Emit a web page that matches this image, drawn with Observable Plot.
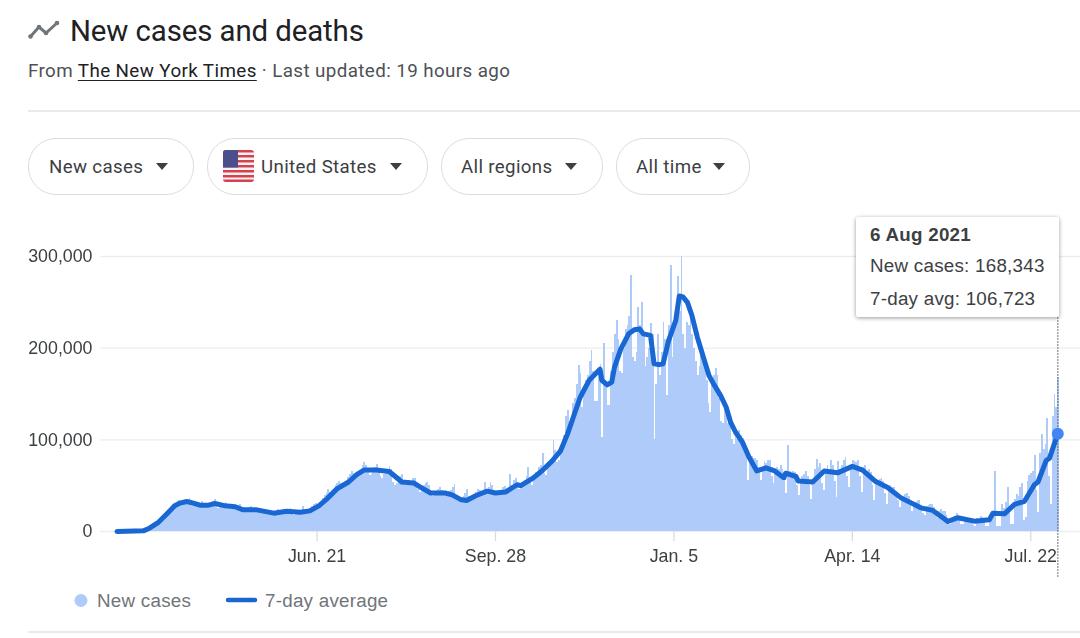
<!DOCTYPE html>
<html><head><meta charset="utf-8">
<script src="https://cdn.jsdelivr.net/npm/d3@7"></script>
<script src="https://cdn.jsdelivr.net/npm/@observablehq/plot@0.6"></script>
<style>
html,body{margin:0;padding:0;background:#fff;width:1080px;height:638px;overflow:hidden;font-family:"Liberation Sans",Arial,sans-serif}
.a{position:absolute;white-space:nowrap}
#title{left:70px;top:13px;font:29.4px/36px Roboto,sans-serif;color:#202124;letter-spacing:-.1px}
#sub{left:28px;top:60px;font:18.8px/22px Roboto,sans-serif;color:#4d5156;letter-spacing:.4px}
#sub u{color:#202124;text-underline-offset:3px}
.hr{height:1.5px;background:#e8eaed;left:28px;right:0}
.pill{top:138px;height:55px;border:1.5px solid #dadce0;border-radius:28px;box-sizing:content-box;font:18.7px/57px Roboto,sans-serif;color:#3c4043;letter-spacing:.35px}
.pill span{position:absolute;top:0}
.pill i{position:absolute;top:23.5px;width:0;height:0;border-left:6.5px solid transparent;border-right:6.5px solid transparent;border-top:7.5px solid #3c4043}
#tip{left:856px;top:217px;width:203px;height:100px;background:#fff;border-radius:2px;box-shadow:0 1px 4px rgba(0,0,0,.4);font:18.8px/22px "Liberation Sans",Arial,sans-serif;color:#3c4043;letter-spacing:.25px}
#tip div{position:absolute;left:14px}
#legend span{position:absolute;top:591px;font:18.8px/20px "Liberation Sans",Arial,sans-serif;color:#70757a;letter-spacing:.25px}
#chart{position:absolute;left:0;top:230px;filter:blur(.45px)}
</style></head><body>
<svg class="a" style="left:28px;top:20px" width="32" height="20" viewBox="0 0 32 20"><path d="M2 17 L11 7 L18 13 L29 3" fill="none" stroke="#70757a" stroke-width="3"/><circle cx="2.5" cy="16.5" r="2.3" fill="#70757a"/><circle cx="11" cy="7" r="2.3" fill="#70757a"/><circle cx="18" cy="13" r="2.3" fill="#70757a"/><circle cx="29" cy="3" r="2.3" fill="#70757a"/></svg>
<div class="a" id="title">New cases and deaths</div>
<div class="a" id="sub">From <u>The New York Times</u> · Last updated: 19 hours ago</div>
<div class="a hr" style="top:110px"></div>
<div class="a pill" style="left:28px;width:164px"><span style="left:20px">New cases</span><i style="left:127px"></i></div>
<div class="a pill" style="left:207px;width:219px"><svg style="position:absolute;left:15px;top:11px" width="31" height="32" viewBox="0 0 31 32"><defs><clipPath id="c"><rect width="31" height="32" rx="3"/></clipPath></defs><g clip-path="url(#c)"><rect width="31" height="32" fill="#f4f4f6"/><g fill="#d8404c"><rect y="0" width="31" height="2.5"/><rect y="5" width="31" height="2.5"/><rect y="10" width="31" height="2.5"/><rect y="15" width="31" height="2.5"/><rect y="20" width="31" height="2.5"/><rect y="25" width="31" height="2.5"/><rect y="29.5" width="31" height="2.5"/></g><rect width="15" height="17.5" fill="#4a4f8c"/></g></svg><span style="left:53px">United States</span><i style="left:182px"></i></div>
<div class="a pill" style="left:441px;width:160px"><span style="left:19px">All regions</span><i style="left:123px"></i></div>
<div class="a pill" style="left:616px;width:132px"><span style="left:19px">All time</span><i style="left:96px"></i></div>
<div id="chart"></div>
<div class="a" id="tip"><div style="top:7px;font-weight:700">6 Aug 2021</div><div style="top:38px">New cases: 168,343</div><div style="top:71px">7-day avg: 106,723</div></div>
<div id="legend"><svg class="a" style="left:70px;top:590px" width="200" height="20"><circle cx="11" cy="10.5" r="6.5" fill="#aecbfa"/><line x1="158" x2="185" y1="10" y2="10" stroke="#1967d2" stroke-width="4.5" stroke-linecap="round"/></svg><span style="left:97px">New cases</span><span style="left:265px">7-day average</span></div>
<div class="a hr" style="top:631px"></div>
<script>
const startDate = "2020-03-02";
// daily new cases in thousands, one row per week beginning Monday 2 Mar 2020
const newCasesK = [
0,0,0,0,.1,.1,.1,
.1,.2,.3,.4,.4,.5,.6,
.7,1,1.2,1.8,2.5,3.5,4.5,
6,8,9,10,11,12.5,17,
19,20,24,26,28,30,34,
30,31,32,33,34,36,31,
28,29,30,30,31,33,30,
27,28,30,29,33,35,29,
25,26,27,29,32,30,27,
24,26,26,27,28,29,25,
22,23,24,26,27,25,22,
21,21,22,23,24,24,21,
19,20,20,21,22,24,20,
19,21,22,23,24,25,20,
18,21,21,22,23,27,21,
20,22,25,27,30,31,28,
28,31,36,39,42,46,43,
41,45,50,52,55,52,50,
50,52,59,62,66,63,60,
60,60,65,72,75,72,66,
61,62,66,70,73,69,60,
58,62,66,68,71,68,54,
50,52,56,60,62,56,50,
50,52,55,58,58,50,46,
43,46,50,52,54,50,43,
38,40,42,46,48,45,39,
38,39,44,45,48,51,35,
33,34,36,38,41,46,38,
35,38,40,43,46,45,39,
41,54,46,48,54,50,39,
39,40,43,44,48,49,41,
42,62,50,56,58,52,46,
48,52,56,60,70,58,50,
57,64,62,70,72,85,63,
61,70,74,76,99,88,75,
78,92,100,105,125,132,108,
118,140,145,160,181,172,135,
150,165,170,185,198,175,142,
142,175,182,103,205,160,138,
138,175,195,215,230,210,175,
172,200,220,225,235,279,190,
185,195,244,225,250,215,180,
190,200,227,215,100,160,215,
170,195,228,210,148,225,290,
190,225,240,278,240,300,215,
200,228,225,235,215,200,185,
170,180,192,195,178,165,140,
130,165,170,178,170,145,120,
118,138,125,118,122,100,95,
103,100,110,105,102,88,82,
56,78,82,80,80,77,70,
56,70,76,74,78,78,60,
52,65,70,68,72,68,55,
41,94,66,62,66,64,50,
39,56,60,62,66,60,50,
35,56,68,79,70,74,52,
45,66,72,68,77,72,55,
37,76,68,72,78,81,60,
48,72,77,76,75,77,60,
43,70,72,66,68,64,50,
34,52,56,57,58,55,42,
30,48,50,48,48,44,34,
26,38,38,40,42,38,28,
22,30,32,34,34,28,20,
18,27,28,29,30,26,17,
14,22,24,22,22,18,9,
8,14,16,18,20,15,8,
8,13,13,14,13,10,7,
6,14,13,16,15,12,6,
5,13,15,16,65,5,5,
6,30,25,32,48,20,8,
8,35,40,38,48,52,12,
15,55,61,63,65,83,45,
21,85,106,90,95,123,60,
30,125,150,135,168.343
];
// 7-day average: day number counted from startDate, and value in thousands
const avgDay = [0,14.6,18,23,27.6,32,35,38.7,42.4,46,50.7,54.4,60,65.6,70,77.6,87,94,101.7,107,112,116.5,122,128.5,133,137,144,151,154.4,158,164.6,169,174,182,186,190.5,194,199,205.4,210,215.5,222,224,231,236,241.5,246,250,253.5,257,262,265.5,268,269,272,274.5,276,279.5,284,287,290,292,296,298,300.7,303,306,310,312,314,316.5,319,322,325.7,328.5,331,335,338,340.5,343.3,347,350.7,355,360,364.6,370,371,376.7,378,386,392.4,399.8,408,413.7,421,427.6,435,446,452.6,459,461,466.5,475.7,484,486,492.4,498,503.5,509,511,515.6,517.4,522];
const avgK = [0,.7,3.6,10,19,28,31,32.7,31,28.7,28.7,30.5,28,27,23.6,23.6,20,22,21,22.5,28,35.6,46.5,54,62,67,67,65.5,60,54,53,47.6,42,42,40,35,33.8,39,44,42,43,51,50,58.5,66.5,77,87.6,106.5,126.5,146.5,165,172,177,165,160,163,179,199,216,220,221,215.6,214,183,182,183,208,230,257,256,250,235.6,212,188,170,161,148,135.6,119,108,97.5,81,66,69.5,66.5,58.5,63.6,60,55,54,66,64,71,67,54.5,48,36.7,25.8,23,14,11,15,11.3,12.7,20,19.3,29.5,33,51,54,77.5,80,106.723];
const yTicks = [0,100000,200000,300000];
const xTickDates = ["2020-06-21","2020-09-28","2021-01-05","2021-04-14","2021-07-22"];
const xTickLabels = ["Jun. 21","Sep. 28","Jan. 5","Apr. 14","Jul. 22"];
const markerDate = "2021-08-06";
const markerAvg = 106723;
const markerSpan = [-50000,233500];

const d0 = new Date(startDate);
const casesTable = newCasesK.map((v,i)=>({date:d3.utcDay.offset(d0,i),next:d3.utcDay.offset(d0,i+1),cases:v*1000}));
const avgTable = avgDay.map((d,i)=>({date:new Date(+d0+d*864e5),avg:avgK[i]*1000}));
const xt = xTickDates.map(s=>new Date(s));
const labelOf = new Map(xt.map((d,i)=>[+d,xTickLabels[i]]));
const font = '"Liberation Sans",Arial,sans-serif';
const plot = Plot.plot({
  width:1080,height:350,marginLeft:100,marginRight:0,marginTop:0,marginBottom:0,
  style:{fontFamily:font,fontSize:"17.8px",color:"#3c4043",background:"transparent",overflow:"visible"},
  x:{type:"utc",domain:[d0,new Date(markerDate)],range:[116.5,1057.3]},
  y:{domain:[0,300000],range:[301,26]},
  marks:[
    Plot.ruleY(yTicks,{stroke:"#ebedef",strokeWidth:1.3}),
    Plot.rectY(casesTable,{x1:"date",x2:"next",y1:0,y2:"cases",fill:"#aecbfa",shapeRendering:"crispEdges"}),
    Plot.ruleX(xt,{y1:0,y2:-11000,stroke:"#dadce0",strokeWidth:1.3}),
    Plot.axisY({ticks:yTicks,tickFormat:d3.format(","),tickSize:0,tickPadding:8,label:null,fontSize:17.8,fill:"#3c4043"}),
    Plot.axisX({ticks:xt,tickSize:0,tickPadding:0,label:null,tickFormat:d=>labelOf.get(+d),anchor:"bottom",dy:-31,fontSize:17.8,fill:"#3c4043"}),
    Plot.ruleX([new Date(markerDate)],{y1:markerSpan[0],y2:markerSpan[1],stroke:"#5f6368",strokeWidth:1.2,strokeDasharray:"1.5,1.5"}),
    Plot.line(avgTable,{x:"date",y:"avg",stroke:"#1967d2",strokeWidth:5,strokeLinejoin:"round",strokeLinecap:"round"}),
    Plot.dot([{d:new Date(markerDate),v:markerAvg}],{x:"d",y:"v",r:6,fill:"#4285f4"})
  ]
});
document.getElementById("chart").append(plot);
</script>
</body></html>
